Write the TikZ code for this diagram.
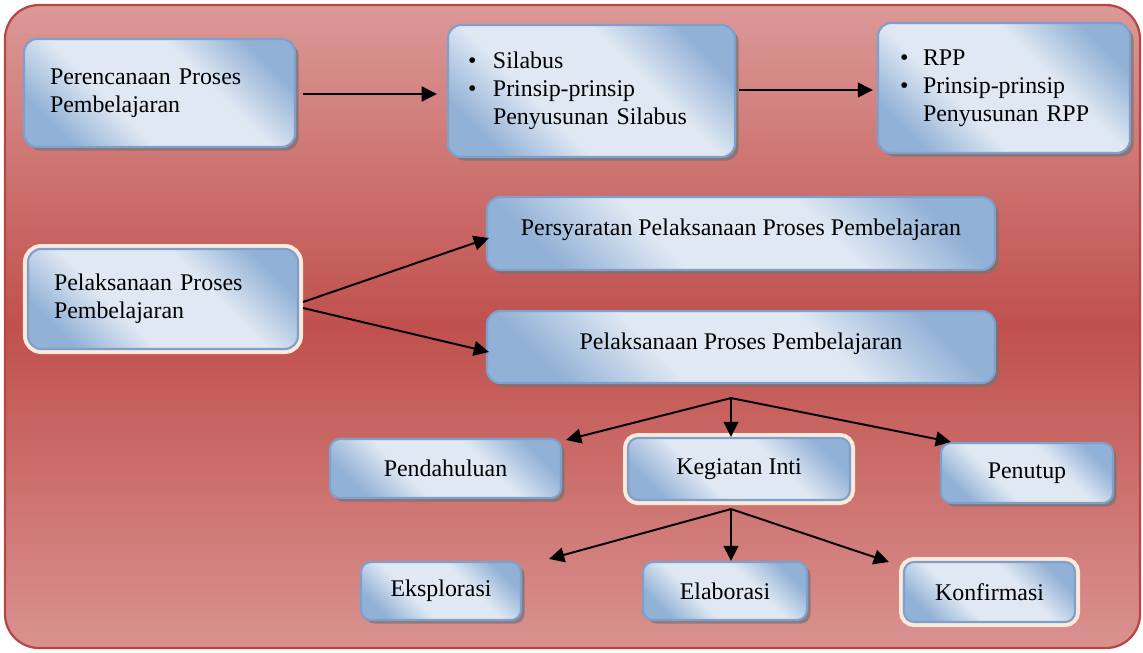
\documentclass[tikz,border=0pt]{standalone}
\usepackage{fontspec}
\setmainfont{Liberation Serif}
\usetikzlibrary{calc}
\usetikzlibrary{arrows.meta}
\usetikzlibrary{shadows}

\definecolor{bgtop}{RGB}{219,153,151}
\definecolor{bgmid}{RGB}{192,80,77}
\definecolor{bgbot}{RGB}{217,146,144}
\definecolor{framered}{RGB}{185,70,68}
\definecolor{boxdark}{RGB}{146,177,214}
\definecolor{boxlight}{RGB}{223,232,243}
\definecolor{boxline}{RGB}{125,160,205}
\definecolor{cream}{RGB}{253,234,218}
\pgfdeclarehorizontalshading{bluebox}{100bp}{color(0bp)=(boxdark); color(24bp)=(boxdark); color(39bp)=(boxlight); color(61bp)=(boxlight); color(76bp)=(boxdark); color(100bp)=(boxdark)}

\tikzset{
  arr/.style={black, line width=1.4pt, ->},
  box/.style={shading=bluebox, shading angle=45, draw=boxline, line width=1.5pt,
    rounded corners=0.33cm, font=\fontsize{17}{19.8}\selectfont,
    drop shadow={shadow xshift=0.09cm, shadow yshift=-0.09cm, fill=black!55, opacity=.7}},
  bsize/.style 2 args={minimum width=#1*0.025cm, minimum height=#2*0.025cm, inner sep=0pt},
  lbox/.style 2 args={align=left, text width=#1*0.025cm-2*#2*0.025cm, inner xsep=#2*0.025cm},
  creamrim/.style={preaction={draw=cream, line width=0.25cm}},
  raised/.style={text depth=0.3cm}
}

\begin{document}
\begin{tikzpicture}[x=0.025cm, y=-0.025cm, >={Triangle[length=0.38cm,width=0.37cm]}]
\useasboundingbox (0,0) rectangle (1143,652);
% background
\draw[framered, line width=1.6pt, rounded corners=0.85cm, top color=bgtop, bottom color=bgbot, middle color=bgmid]
  (5,5) rectangle (1140,648);

% planning row
\node[box, bsize={271}{108}, lbox={271}{26}] (plan) at (159.5,93) {Perencanaan Proses\\Pembelajaran};
\node[box, bsize={287}{132}, lbox={287}{20}] (silabus) at (591.5,91)
  {\begin{tabular}{@{}p{0.625cm}@{}l@{}}\textbullet & Silabus\\ \textbullet & Prinsip-prinsip\\ & Penyusunan Silabus\end{tabular}};
\node[box, bsize={252}{130}, lbox={252}{22}] (rpp) at (1004,88)
  {\begin{tabular}{@{}p{0.575cm}@{}l@{}}\textbullet & RPP\\ \textbullet & Prinsip-prinsip\\ & Penyusunan RPP\end{tabular}};

% execution
\node[box, creamrim, bsize={270}{100}, lbox={270}{26}] (laks) at (163,299) {Pelaksanaan Proses\\Pembelajaran};
\node[box, raised, bsize={508}{73}] (syarat) at (741,233.5) {Persyaratan Pelaksanaan Proses Pembelajaran};
\node[box, raised, bsize={508}{72}] (proses) at (741,347) {Pelaksanaan Proses Pembelajaran};

% stages
\node[box, rounded corners=0.25cm, bsize={231}{59}] (awal) at (445.5,468.5) {Pendahuluan};
\node[box, creamrim, rounded corners=0.25cm, bsize={222}{62}] (inti) at (739,469) {Kegiatan Inti};
\node[box, rounded corners=0.25cm, bsize={172}{60}] (tutup) at (1027,473) {Penutup};

\node[box, rounded corners=0.25cm, bsize={160}{58}] (eksp) at (441,591) {Eksplorasi};
\node[box, rounded corners=0.25cm, bsize={164}{58}] (elab) at (725,591) {Elaborasi};
\node[box, creamrim, rounded corners=0.25cm, bsize={171}{60}] (konf) at (989.5,592) {Konfirmasi};

\coordinate (fork1) at ($(proses.south)+(-10,14)$);
\coordinate (fork2) at ($(inti.south)+(-8,8)$);

\draw[arr] ($(plan.east)+(7,1)$) -- ($(plan.east -| silabus.west)+(-10,1)$);
\draw[arr] ($(silabus.east)+(3,-1)$) -- ($(silabus.east -| rpp.west)+(-4,-1)$);
\draw[arr] ($(laks.east)+(4,3)$) -- ($(syarat.west)+(3,4.5)$);
\draw[arr] ($(laks.east)+(4,9)$) -- ($(proses.west)+(3,5)$);

\draw[arr] (fork1) -- ($(awal.north east)+(4,2)$);
\draw[arr] (fork1) -- (fork1 |- inti.north);
\draw[arr] (fork1) -- ($(tutup.north west)+(11,0)$);

\draw[arr] (fork2) -- ($(eksp.north east)+(27,-2)$);
\draw[arr] (fork2) -- (fork2 |- elab.north);
\draw[arr] (fork2) -- ($(konf.north west)+(-14,1)$);
\end{tikzpicture}
\end{document}
